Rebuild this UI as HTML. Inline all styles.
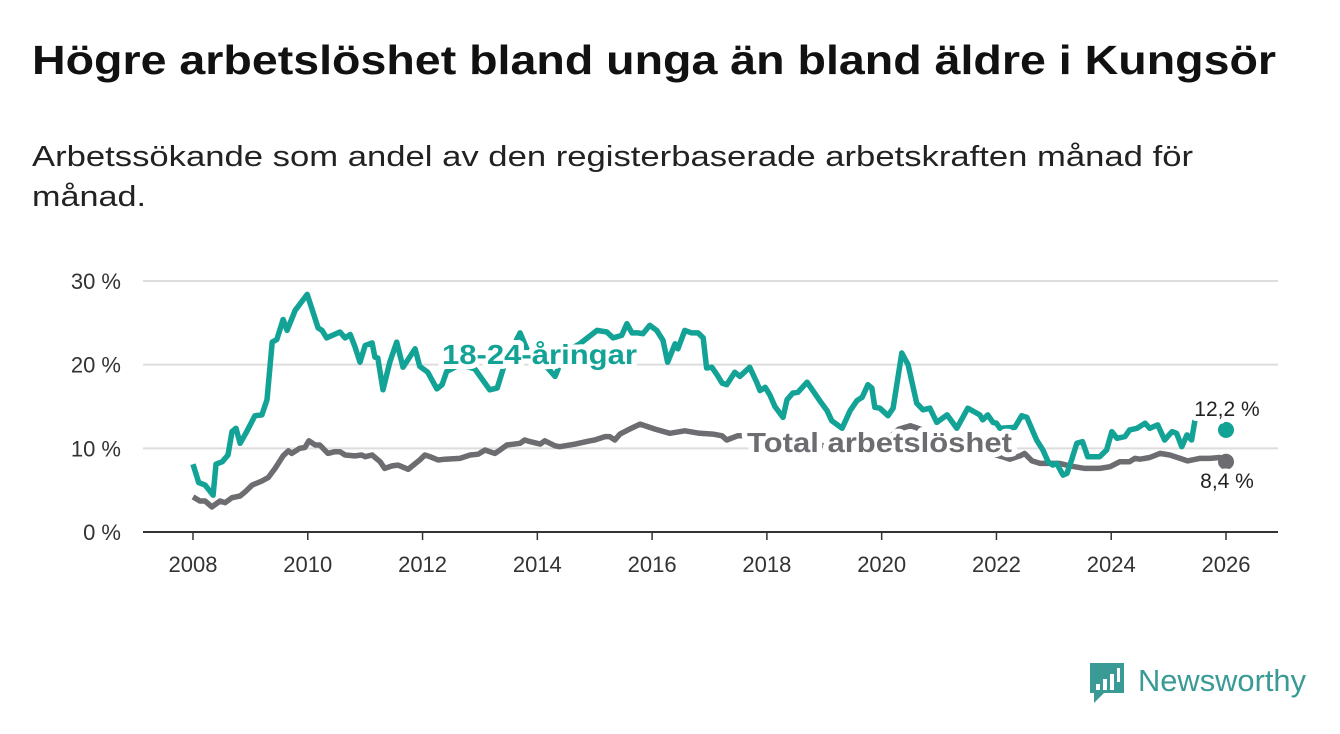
<!DOCTYPE html>
<html><head><meta charset="utf-8"><style>
body{margin:0;background:#fff;width:1340px;height:734px;overflow:hidden;font-family:"Liberation Sans",sans-serif;}
svg{position:absolute;left:0;top:0}
</style></head><body>
<svg id="chart" width="1340" height="734">
<text x="32" y="74" font-size="41" font-weight="bold" fill="#111" textLength="1244" lengthAdjust="spacingAndGlyphs">Högre arbetslöshet bland unga än bland äldre i Kungsör</text>
<text x="32" y="166" font-size="29" fill="#222" textLength="1161" lengthAdjust="spacingAndGlyphs">Arbetssökande som andel av den registerbaserade arbetskraften månad för</text>
<text x="32" y="206" font-size="29" fill="#222" textLength="114" lengthAdjust="spacingAndGlyphs">månad.</text>
<g id="grid"></g><g id="lines"></g><g id="labels"></g>
<g>
<path d="M1090 663 h34 v30 h-20 l-10 10 v-10 h-4 z" fill="#3a9a95"/>
<rect x="1096" y="684" width="4" height="6" fill="#fff"/><rect x="1103" y="679" width="4" height="11" fill="#fff"/><rect x="1110" y="674" width="4" height="16" fill="#fff"/><rect x="1117" y="668" width="3" height="14" fill="#fff"/>
<text x="1138" y="691" font-size="31" fill="#3a9a95" textLength="168" lengthAdjust="spacingAndGlyphs">Newsworthy</text>
</g>
</svg>
<script>
const yearTicks=[2008,2010,2012,2014,2016,2018,2020,2022,2024,2026];
const valueTicks=[0,10,20,30];
const youthDates=[2008.00,2008.10,2008.21,2008.35,2008.40,2008.51,2008.61,2008.68,2008.75,2008.82,2008.92,2009.08,2009.20,2009.29,2009.38,2009.46,2009.57,2009.64,2009.78,2009.99,2010.18,2010.25,2010.33,2010.56,2010.65,2010.74,2010.82,2010.91,2011.00,2011.12,2011.17,2011.22,2011.31,2011.43,2011.55,2011.66,2011.87,2011.95,2012.09,2012.25,2012.34,2012.42,2012.65,2012.91,2013.17,2013.30,2013.44,2013.70,2013.87,2014.13,2014.31,2014.48,2014.74,2015.04,2015.21,2015.32,2015.47,2015.56,2015.65,2015.75,2015.84,2015.96,2016.08,2016.19,2016.27,2016.40,2016.45,2016.57,2016.69,2016.80,2016.89,2016.95,2017.04,2017.13,2017.22,2017.30,2017.44,2017.53,2017.70,2017.83,2017.88,2017.97,2018.05,2018.14,2018.28,2018.35,2018.45,2018.54,2018.70,2018.80,2018.92,2019.05,2019.13,2019.31,2019.45,2019.57,2019.66,2019.76,2019.83,2019.88,2019.97,2020.11,2020.20,2020.35,2020.46,2020.61,2020.72,2020.84,2020.96,2021.14,2021.31,2021.50,2021.71,2021.76,2021.85,2021.94,2022.00,2022.06,2022.32,2022.44,2022.53,2022.70,2022.81,2022.90,2022.98,2023.05,2023.16,2023.23,2023.31,2023.40,2023.50,2023.59,2023.80,2023.92,2024.01,2024.10,2024.24,2024.32,2024.45,2024.59,2024.67,2024.81,2024.93,2025.06,2025.14,2025.23,2025.32,2025.40,2025.46,2026.00];
const youthValues=[8.1,5.9,5.6,4.4,8.1,8.4,9.2,12.0,12.4,10.6,11.8,13.9,14.0,15.8,22.7,23.0,25.4,24.1,26.5,28.4,24.4,24.1,23.2,23.9,23.2,23.6,22.2,20.3,22.3,22.6,20.9,20.8,17.0,20.3,22.7,19.7,21.9,19.8,19.1,17.1,17.6,19.2,20.0,19.5,17.0,17.2,20.3,23.8,21.0,20.0,18.6,21.5,22.5,24.1,23.9,23.2,23.5,24.9,23.8,23.8,23.7,24.7,24.1,22.9,20.3,22.5,21.9,24.1,23.8,23.8,23.2,19.6,19.7,18.8,17.8,17.6,19.1,18.6,19.7,17.8,16.9,17.3,16.4,15.0,13.7,15.8,16.6,16.7,17.9,16.9,15.7,14.5,13.3,12.4,14.5,15.7,16.1,17.6,17.2,14.9,14.8,13.9,14.8,21.4,20.0,15.4,14.6,14.8,13.1,14.0,12.4,14.8,14.0,13.4,14.0,13.1,13.0,12.4,12.5,13.9,13.7,11.0,9.8,8.4,8.0,8.2,6.8,7.0,8.6,10.6,10.8,9.0,9.0,9.8,12.0,11.2,11.4,12.2,12.4,13.0,12.4,12.8,11.0,12.0,11.8,10.2,11.6,11.0,13.4,12.2];
const totalDates=[2008.00,2008.12,2008.21,2008.33,2008.47,2008.56,2008.68,2008.82,2008.91,2009.03,2009.20,2009.31,2009.43,2009.57,2009.66,2009.72,2009.86,2009.95,2010.02,2010.13,2010.21,2010.35,2010.47,2010.56,2010.65,2010.82,2010.94,2011.00,2011.12,2011.26,2011.34,2011.47,2011.57,2011.64,2011.75,2011.95,2012.04,2012.13,2012.27,2012.39,2012.65,2012.83,2012.97,2013.09,2013.17,2013.26,2013.35,2013.47,2013.70,2013.78,2013.87,2014.05,2014.13,2014.31,2014.39,2014.66,2014.92,2015.00,2015.18,2015.26,2015.35,2015.44,2015.58,2015.79,2016.05,2016.31,2016.40,2016.57,2016.83,2017.06,2017.22,2017.30,2017.49,2017.56,2018.00,2018.50,2019.00,2019.50,2020.00,2020.30,2020.50,2020.80,2021.20,2021.60,2022.10,2022.23,2022.41,2022.49,2022.62,2022.76,2022.93,2023.10,2023.28,2023.54,2023.80,2023.98,2024.15,2024.32,2024.41,2024.50,2024.67,2024.85,2025.02,2025.20,2025.33,2025.54,2025.72,2025.89,2026.00];
const totalValues=[4.2,3.7,3.7,3.0,3.7,3.5,4.1,4.3,4.8,5.6,6.1,6.5,7.6,9.1,9.7,9.4,10.0,10.1,10.9,10.4,10.4,9.4,9.6,9.6,9.2,9.1,9.2,9.0,9.2,8.4,7.6,7.9,8.0,7.8,7.5,8.6,9.2,9.0,8.6,8.7,8.8,9.2,9.3,9.8,9.6,9.4,9.8,10.4,10.6,11.0,10.8,10.5,10.9,10.3,10.2,10.5,10.9,11.0,11.4,11.4,11.0,11.7,12.2,12.9,12.3,11.8,11.9,12.1,11.8,11.7,11.5,11.0,11.5,11.5,11.2,10.8,10.3,10.0,10.5,12.3,12.7,12.0,11.0,10.0,9.0,8.7,9.1,9.4,8.5,8.2,8.2,8.2,7.9,7.6,7.6,7.8,8.4,8.4,8.8,8.7,8.9,9.4,9.2,8.8,8.5,8.8,8.8,8.9,8.4];
const NS='http://www.w3.org/2000/svg';
const X0=193,X1=1226,Y0=532,Y30=281;
function xs(t){return X0+(t-2008)*(X1-X0)/18;}
function ys(v){return Y0-v*(Y0-Y30)/30;}
function mk(tag,attrs,parent){const e=document.createElementNS(NS,tag);for(const k in attrs)e.setAttribute(k,attrs[k]);parent.appendChild(e);return e;}
const grid=document.getElementById('grid'),lines=document.getElementById('lines'),labels=document.getElementById('labels');
valueTicks.forEach(v=>{
  const l=mk('line',{x1:143,x2:1278,y1:ys(v),y2:ys(v),stroke:v===0?'#333':'#ddd','stroke-width':2},grid);
  
  
  const t=mk('text',{x:121,y:ys(v)+8,'text-anchor':'end','font-size':22,fill:'#333'},grid);
  t.textContent=v+' %';
  
  
});
yearTicks.forEach(y=>{
  const l=mk('line',{x1:xs(y),x2:xs(y),y1:532,y2:540,stroke:'#333','stroke-width':1.5},grid);
  
  
  const t=mk('text',{x:xs(y),y:572,'text-anchor':'middle','font-size':22,fill:'#333'},grid);
  t.textContent=y;
  
  
});
function path(d,v,n){return d.slice(0,n).map((t,i)=>(i?'L':'M')+xs(t).toFixed(1)+' '+ys(v[i]).toFixed(1)).join(' ');}
const tp=mk('path',{d:path(totalDates,totalValues,totalDates.length),fill:'none',stroke:'#6d6c70','stroke-width':5.5,'stroke-linejoin':'round'},lines);


const yp=mk('path',{d:path(youthDates,youthValues,youthDates.length-1),fill:'none',stroke:'#13a396','stroke-width':5.5,'stroke-linejoin':'round'},lines);


const td=mk('circle',{cx:xs(totalDates[totalDates.length-1]),cy:ys(totalValues[totalValues.length-1]),r:8,fill:'#6d6c70'},lines);


const yd=mk('circle',{cx:xs(youthDates[youthDates.length-1]),cy:ys(youthValues[youthValues.length-1]),r:8,fill:'#13a396'},lines);


function lab(txt,x,y,size,fill,bold,anchor,name,len){
  const t=mk('text',{x:x,y:y,'font-size':size,fill:fill,'font-weight':bold?'bold':'normal','text-anchor':anchor,stroke:'#fff','stroke-width':10,'paint-order':'stroke','stroke-linejoin':'round'},labels);
  if(len){t.setAttribute('textLength',len);t.setAttribute('lengthAdjust','spacingAndGlyphs');}
  t.textContent=txt;
  
  
}
lab('18-24-åringar',442,364,28,'#13a396',true,'start','youth-series-label',195);
lab('Total arbetslöshet',747,452,28,'#6d6c70',true,'start','total-series-label',265);
lab('12,2 %',1227,416,21,'#222',false,'middle','youth-end-value');
lab('8,4 %',1227,488,21,'#222',false,'middle','total-end-value');
</script>
</body></html>
